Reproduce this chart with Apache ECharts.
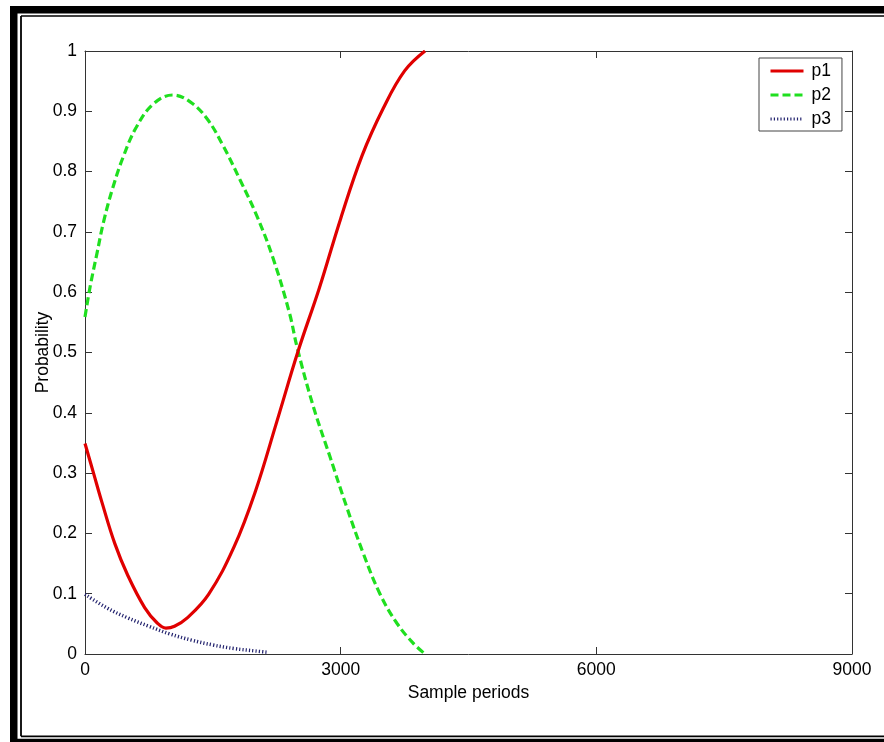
<!DOCTYPE html>
<html>
<head>
<meta charset="utf-8">
<script src="https://cdn.jsdelivr.net/npm/echarts@6/dist/echarts.min.js"></script>
<style>
  html, body { margin: 0; padding: 0; background: #fff; }
  #chart { width: 884px; height: 742px; }
</style>
</head>
<body>
<div id="chart"></div>
<script>
// Sample positions and probabilities for each state
const p1X = [0, 100, 200, 350, 500, 700, 850, 950, 1050, 1200, 1450, 1750, 2000, 2250, 2500, 2750, 3000, 3250, 3500, 3750, 3990];
const p1Y = [0.349, 0.300, 0.251, 0.183, 0.131, 0.077, 0.051, 0.043, 0.046, 0.060, 0.099, 0.178, 0.270, 0.385, 0.502, 0.607, 0.722, 0.826, 0.905, 0.967, 1.0];

const p2X = [0, 60, 140, 220, 330, 450, 600, 800, 1030, 1230, 1430, 1620, 1820, 2015, 2210, 2400, 2490, 2680, 2875, 3070, 3265, 3460, 3660, 3850, 3990];
const p2Y = [0.559, 0.609, 0.664, 0.718, 0.775, 0.825, 0.873, 0.912, 0.927, 0.916, 0.888, 0.843, 0.786, 0.727, 0.655, 0.565, 0.508, 0.410, 0.327, 0.244, 0.167, 0.100, 0.051, 0.018, 0.0];

const p3X = [0, 250, 500, 750, 1000, 1250, 1500, 1750, 2000, 2130];
const p3Y = [0.099, 0.077, 0.060, 0.046, 0.033, 0.023, 0.015, 0.009, 0.005, 0.003];

const seriesNames = ['p1', 'p2', 'p3'];
const xTicks = [0, 3000, 6000, 9000];
const xTitle = 'Sample periods';
const yTitle = 'Probability';

const pairs = (xs, ys) => xs.map((x, i) => [x, ys[i]]);

const FONT = '"Liberation Sans", Arial, sans-serif';
const axisColor = '#333';

const chart = echarts.init(document.getElementById('chart'), null, { renderer: 'canvas' });

const baseAxisLine = { show: true, onZero: false, lineStyle: { color: axisColor, width: 1 } };
const baseTick = { show: true, inside: true, length: 7, lineStyle: { color: axisColor, width: 1 } };

chart.setOption({
  animation: false,
  backgroundColor: '#fff',
  textStyle: { fontFamily: FONT },
  grid: { left: 85, top: 51, right: 32, bottom: 88, containLabel: false },
  graphic: [
    // heavy outer frame
    { type: 'rect', shape: { x: 10, y: 6, width: 874, height: 7.5 }, style: { fill: '#000' }, silent: true },
    { type: 'rect', shape: { x: 10, y: 6, width: 7.5, height: 736 }, style: { fill: '#000' }, silent: true },
    { type: 'rect', shape: { x: 10, y: 738.8, width: 874, height: 4 }, style: { fill: '#000' }, silent: true },
    // thin inner frame
    { type: 'line', shape: { x1: 21, y1: 16, x2: 884, y2: 16 }, style: { stroke: '#000', lineWidth: 1.6 }, silent: true },
    { type: 'line', shape: { x1: 21, y1: 16, x2: 21, y2: 736.3 }, style: { stroke: '#000', lineWidth: 1.8 }, silent: true },
    { type: 'line', shape: { x1: 21, y1: 736.3, x2: 884, y2: 736.3 }, style: { stroke: '#000', lineWidth: 1.8 }, silent: true }
  ],
  legend: {
    data: seriesNames,
    orient: 'vertical',
    left: 759,
    top: 58,
    padding: [4, 11, 3, 10],
    itemWidth: 33,
    itemHeight: 14,
    itemGap: 6,
    backgroundColor: '#fff',
    borderColor: '#444',
    borderWidth: 1,
    borderRadius: 0,
    itemStyle: { opacity: 0 },
    lineStyle: { width: 3 },
    textStyle: { fontFamily: FONT, fontSize: 17.5, color: '#000', padding: [0, 0, 0, 3] }
  },
  xAxis: [
    {
      type: 'value', position: 'bottom', min: 0, max: 9000, interval: 3000,
      name: xTitle, nameLocation: 'middle', nameGap: 29,
      nameTextStyle: { fontFamily: FONT, fontSize: 17.5, color: '#000' },
      axisLine: baseAxisLine, axisTick: baseTick,
      axisLabel: { margin: 7, fontFamily: FONT, fontSize: 17.5, color: '#000',
        formatter: v => (xTicks.indexOf(v) >= 0 ? String(v) : '') },
      splitLine: { show: false }
    },
    {
      type: 'value', position: 'top', min: 0, max: 9000, interval: 3000,
      axisLine: baseAxisLine, axisTick: baseTick, axisLabel: { show: false }, splitLine: { show: false }
    }
  ],
  yAxis: [
    {
      type: 'value', position: 'left', min: 0, max: 1, interval: 0.1,
      name: yTitle, nameLocation: 'middle', nameGap: 33, nameRotate: 90, nameMoveOverlap: false,
      nameTextStyle: { fontFamily: FONT, fontSize: 17.5, color: '#000' },
      axisLine: baseAxisLine, axisTick: baseTick,
      axisLabel: { margin: 8, fontFamily: FONT, fontSize: 17.5, color: '#000',
        formatter: v => String(Math.round(v * 10) / 10) },
      splitLine: { show: false }
    },
    {
      type: 'value', position: 'right', min: 0, max: 1, interval: 0.1,
      axisLine: baseAxisLine, axisTick: baseTick, axisLabel: { show: false }, splitLine: { show: false }
    }
  ],
  series: [
    {
      name: 'p1', type: 'line', data: pairs(p1X, p1Y), smooth: 0.4, showSymbol: false, symbol: 'none',
      lineStyle: { color: '#e00000', width: 3.2, type: 'solid' }, itemStyle: { color: '#e00000' }, z: 3
    },
    {
      name: 'p2', type: 'line', data: pairs(p2X, p2Y), smooth: 0.4, showSymbol: false, symbol: 'none',
      lineStyle: { color: '#1fdf1f', width: 3.2, type: [8, 4], cap: 'butt' }, itemStyle: { color: '#1fdf1f' }, z: 2
    },
    {
      name: 'p3', type: 'line', data: pairs(p3X, p3Y), smooth: 0.4, showSymbol: false, symbol: 'none',
      lineStyle: { color: '#23236e', width: 3.5, type: [1.2, 2.1], cap: 'butt' }, itemStyle: { color: '#23236e' }, z: 1
    }
  ]
});
</script>
</body>
</html>
